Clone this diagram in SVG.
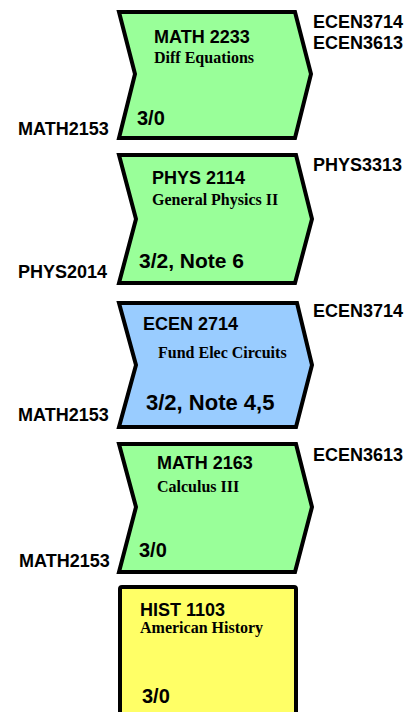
<svg xmlns="http://www.w3.org/2000/svg" width="407" height="712" viewBox="0 0 407 712">
<style>
.sh{stroke:#000;stroke-width:4;stroke-linejoin:miter}
.g{fill:#99FF99}
.b{fill:#99CCFF}
.y{fill:#FFFF66}
.code{font-family:"Liberation Sans",Arial,sans-serif;font-weight:bold;font-size:18px;fill:#000}
.side{font-family:"Liberation Sans",Arial,sans-serif;font-weight:bold;font-size:18px;fill:#000}
.name{font-family:"Liberation Serif","Times New Roman",serif;font-weight:bold;font-size:16px;fill:#000}
.cr{font-family:"Liberation Sans",Arial,sans-serif;font-weight:bold;font-size:20px;fill:#000}
</style>
<rect width="407" height="712" fill="#fff"/>
<g id="connectors"/>
<g id="math2233">
<polygon class="sh g" points="119,12 295,12 311,74 295,138 119,138 135,74"/>
<text class="code" x="154" y="43">MATH 2233</text>
<text class="name" x="154" y="63">Diff Equations</text>
<text class="cr" x="137" y="125">3/0</text>
<text class="side" x="18" y="135">MATH2153</text>
<text class="side" x="313" y="28">ECEN3714</text>
<text class="side" x="313" y="49">ECEN3613</text>
</g>
<g id="phys2114">
<polygon class="sh g" points="119,155 296,155 312,219 295,283 119,283 136,219"/>
<text class="code" x="152" y="184">PHYS 2114</text>
<text class="name" x="152" y="205">General Physics II</text>
<text class="cr" x="139" y="268" style="font-size:21px">3/2, Note 6</text>
<text class="side" x="18" y="278">PHYS2014</text>
<text class="side" x="313" y="171">PHYS3313</text>
</g>
<g id="ecen2714">
<polygon class="sh b" points="119,303 297,303 312,365 296,427 119,427 136,365"/>
<text class="code" x="143" y="330">ECEN 2714</text>
<text class="name" x="158" y="358">Fund Elec Circuits</text>
<text class="cr" x="146" y="410" style="font-size:22px">3/2, Note 4,5</text>
<text class="side" x="18" y="421">MATH2153</text>
<text class="side" x="313" y="317">ECEN3714</text>
</g>
<g id="math2163">
<polygon class="sh g" points="119,444 296,444 312,507 295,572 119,572 136,507"/>
<text class="code" x="157" y="469">MATH 2163</text>
<text class="name" x="157" y="492">Calculus III</text>
<text class="cr" x="139" y="557">3/0</text>
<text class="side" x="19" y="567">MATH2153</text>
<text class="side" x="313" y="461">ECEN3613</text>
</g>
<g id="hist1103">
<rect class="sh y" x="120" y="587" width="176" height="140" rx="2"/>
<text class="code" x="140" y="616">HIST 1103</text>
<text class="name" x="140" y="633">American History</text>
<text class="cr" x="142" y="703">3/0</text>
</g>
</svg>
